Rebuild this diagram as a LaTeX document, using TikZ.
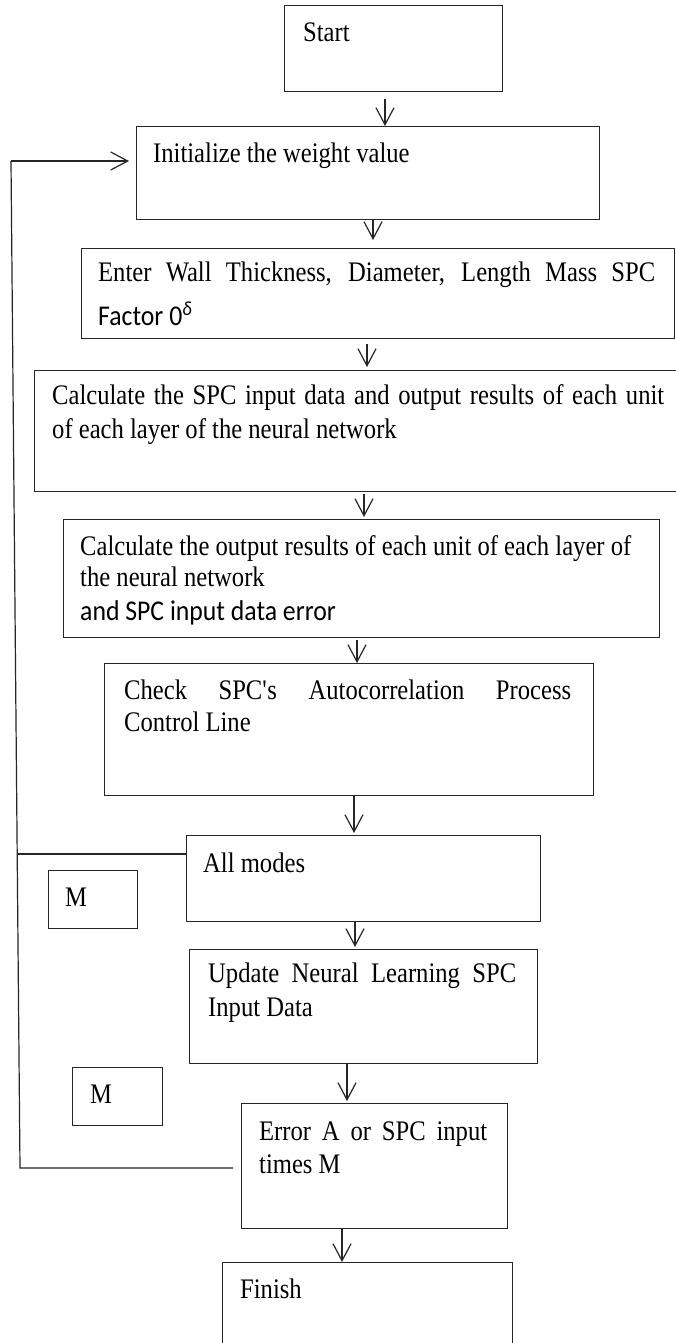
\documentclass[tikz,border=0pt]{standalone}
\usepackage{fontspec}
\setmainfont{Liberation Serif}[FakeStretch=0.87]
\newfontfamily\calib{Carlito}[FakeStretch=0.9]
\usetikzlibrary{arrows.meta,calc}
\begin{document}
\begin{tikzpicture}[x=1pt,y=-1pt,
  box/.style={draw=black!85,line width=1.2pt,rectangle,inner sep=0pt,anchor=north west},
  txt/.style={anchor=base west,inner sep=0pt,font=\fontsize{28.3}{34}\selectfont},
  stxt/.style={anchor=base west,inner sep=0pt,font=\calib\fontsize{28.6}{34}\selectfont},
  conn/.style={draw=black!85,line width=1.2pt},
  arr/.style={conn,-{Straight Barb[length=17pt,width=18pt]}}]
\useasboundingbox (0,0) rectangle (675,1343);
\fill[white] (0,0) rectangle (675,1343);
% boxes
\node[box,minimum width=218pt,minimum height=86pt] (start) at (284,5) {};
\node[box,minimum width=463pt,minimum height=93pt] (init) at (136,126) {};
\node[box,minimum width=593pt,minimum height=90pt] (enter) at (81,248) {};
\node[box,minimum width=643pt,minimum height=121pt] (calcspc) at (34,370) {};
\node[box,minimum width=596pt,minimum height=118pt] (calcout) at (63,519) {};
\node[box,minimum width=489pt,minimum height=132pt] (check) at (104,663) {};
\node[box,minimum width=354pt,minimum height=86pt] (allmodes) at (186,835) {};
\node[box,minimum width=89pt,minimum height=58pt] (mone) at (48,870) {};
\node[box,minimum width=348pt,minimum height=114pt] (update) at (189,949) {};
\node[box,minimum width=90pt,minimum height=58pt] (mtwo) at (72,1067) {};
\node[box,minimum width=266pt,minimum height=125pt] (error) at (241,1103) {};
\node[box,minimum width=290pt,minimum height=88pt] (finish) at (222,1262) {};
% texts
\node[txt] (tstart) at (303,42) {Start};
\node[txt] (tinit) at (153,163) {Initialize the weight value};
\node[txt] (tentera) at (98,281) {\makebox[557pt][s]{Enter Wall Thickness, Diameter, Length Mass SPC}};
\node[stxt] (tenterb) at (98,325) {Factor 0\textsuperscript{\textit{δ}}};
\node[txt] (tspca) at (52,404) {\makebox[612pt][s]{Calculate the SPC input data and output results of each unit}};
\node[txt] (tspcb) at (52,438) {of each layer of the neural network};
\node[txt] (touta) at (80,555) {Calculate the output results of each unit of each layer of};
\node[txt] (toutb) at (80,586) {the neural network};
\node[stxt] (toutc) at (80,620) {and SPC input data error};
\node[txt] (tchecka) at (124,699) {\makebox[447pt][s]{Check SPC\textquotesingle s Autocorrelation Process}};
\node[txt] (tcheckb) at (124,731) {Control Line};
\node[txt] (tall) at (203,872) {All modes};
\node[txt] (tmone) at (65,906) {M};
\node[txt] (tupda) at (208,982) {\makebox[308pt][s]{Update Neural Learning SPC}};
\node[txt] (tupdb) at (208,1016) {Input Data};
\node[txt] (tmtwo) at (90,1103) {M};
\node[txt] (terra) at (259,1140) {\makebox[228pt][s]{Error A or SPC input}};
\node[txt] (terrb) at (259,1173) {times M};
\node[txt] (tfin) at (240,1298) {Finish};
% arrows
\draw[arr] ([shift={(101,7)}]start.south west) coordinate (p1) -- (p1 |- init.north);
\draw[arr] ([shift={(237,0)}]init.south west) coordinate (p2) -- ($(p2 |- enter.north)+(0,-8)$);
\draw[arr] ([shift={(286,5)}]enter.south west) coordinate (p3) -- ($(p3 |- calcspc.north)+(0,-3)$);
\draw[arr] ([shift={(330,2)}]calcspc.south west) coordinate (p4) -- ($(p4 |- calcout.north)+(0,-2)$);
\draw[arr] ([shift={(294,2)}]calcout.south west) coordinate (p5) -- (p5 |- check.north);
\draw[arr] ([shift={(250,0)}]check.south west) coordinate (p6) -- ($(p6 |- allmodes.north)+(0,-2)$);
\draw[arr] ([shift={(169,0)}]allmodes.south west) coordinate (p7) -- ($(p7 |- update.north)+(0,-2)$);
\draw[arr] ([shift={(158,0)}]update.south west) coordinate (p8) -- ($(p8 |- error.north)+(0,-2)$);
\draw[arr] ([shift={(101,0)}]error.south west) coordinate (p9) -- (p9 |- finish.north);
% feedback loop
\coordinate (L1) at (11,161);
\coordinate (L2) at (17.2,854);
\coordinate (L3) at (20,1168);
\draw[conn] (L2 -| allmodes.west) -- (L2);
\draw[conn] ($(L3 -| error.west)+(-8,0)$) -- (L3) -- (L1);
\draw[arr] (L1) -- ($(L1 -| init.west)+(-7,0)$);
\end{tikzpicture}
\end{document}
